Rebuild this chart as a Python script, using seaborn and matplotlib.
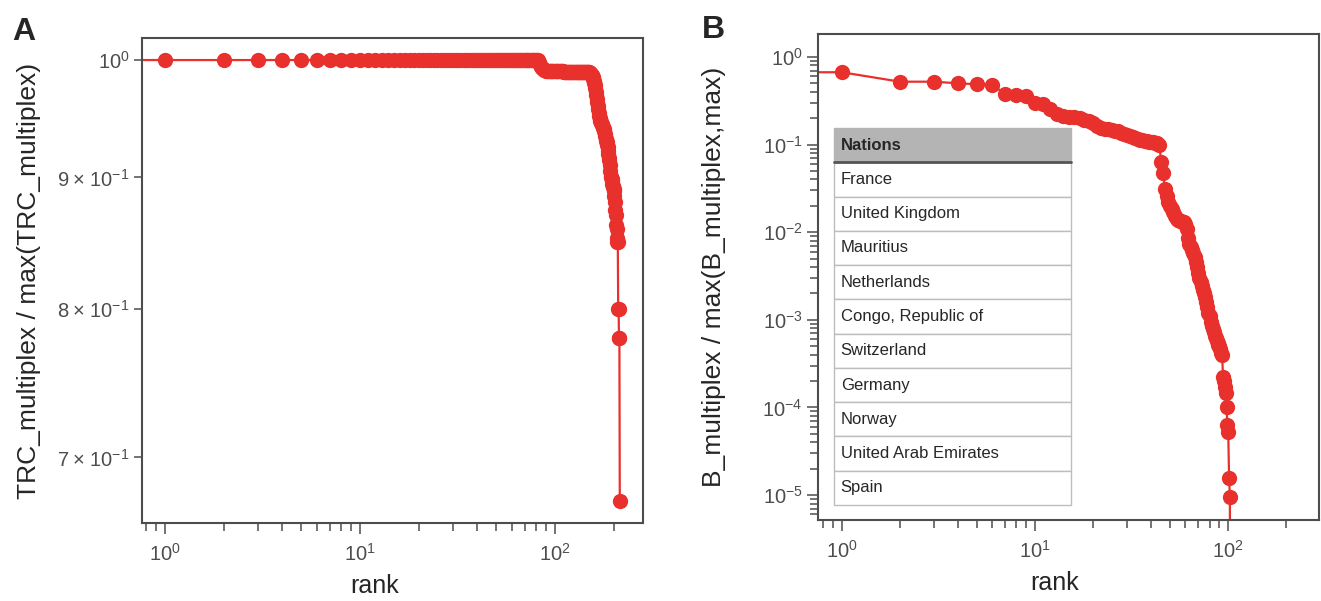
import numpy as np
import pandas as pd
import seaborn as sns
import matplotlib.pyplot as plt
from matplotlib.ticker import LogLocator, NullLocator, NullFormatter

# panel A: TRC_multiplex normalised, one value per rank (rank 0 runs to the left edge)
trc_values = (
    [1.0] * 83
    + [0.998, 0.996, 0.994, 0.993, 0.992, 0.991, 0.991, 0.9905]
    + [0.990] * 20 + [0.9895] * 20 + [0.989] * 20
    + [0.9885, 0.988, 0.9875, 0.987, 0.986,
       0.985, 0.983, 0.981, 0.980, 0.978,
       0.975, 0.972, 0.969, 0.966, 0.963,
       0.960, 0.957, 0.954, 0.951, 0.949,
       0.947, 0.946, 0.945, 0.944, 0.943,
       0.942, 0.941, 0.940, 0.938, 0.936,
       0.934, 0.932, 0.930, 0.929, 0.927,
       0.925, 0.922, 0.919, 0.916, 0.914,
       0.910, 0.905, 0.900, 0.900, 0.899,
       0.897, 0.895, 0.893, 0.892, 0.891,
       0.889, 0.885, 0.880, 0.874, 0.870,
       0.862, 0.859, 0.852, 0.849, 0.849,
       0.800, 0.800, 0.779, 0.779, 0.673]
)

# panel B: B_multiplex normalised (last rank is zero and drops out of the log axis)
b_values = [
    0.68,
    0.669, 0.522, 0.522, 0.50, 0.488, 0.48, 0.38, 0.365, 0.355, 0.30,
    0.29, 0.255, 0.222, 0.212, 0.209, 0.206, 0.200, 0.193, 0.185, 0.177,
    0.165, 0.156, 0.152, 0.149, 0.147, 0.144, 0.141, 0.137, 0.133, 0.130,
    0.126, 0.122, 0.119, 0.116, 0.114, 0.112, 0.110, 0.109, 0.108, 0.107,
    0.106, 0.105, 0.103, 0.099, 0.063, 0.047, 0.031, 0.026, 0.022, 0.020,
    0.0185, 0.017, 0.0155, 0.0143, 0.0138, 0.0135, 0.0133, 0.0131, 0.0129, 0.0125,
    0.011, 0.0085, 0.0074, 0.0068, 0.0063, 0.0058, 0.0052, 0.0046, 0.0040, 0.0034,
    0.0030, 0.0027, 0.0024, 0.0022, 0.0020, 0.0018, 0.0016, 0.0014, 0.0012, 0.0011,
    0.00095, 0.00085, 0.00078, 0.00072, 0.00066, 0.00062, 0.00058, 0.00055, 0.00052, 0.00050,
    0.00046, 0.00042, 0.00040, 0.00022, 0.00020, 0.00017, 0.000145, 0.00010, 0.000063, 0.000053,
    0.0000158, 0.0000095, 0.0,
]

nations = ['France', 'United Kingdom', 'Mauritius', 'Netherlands', 'Congo, Republic of',
           'Switzerland', 'Germany', 'Norway', 'United Arab Emirates', 'Spain']

x_ticks = [1, 10, 100]
x_labels = [r'$\mathregular{10^{0}}$', r'$\mathregular{10^{1}}$', r'$\mathregular{10^{2}}$']
a_y_ticks = [0.7, 0.8, 0.9, 1.0]
a_y_labels = [r'$\mathregular{7\;×\;10^{-1}}$', r'$\mathregular{8\;×\;10^{-1}}$',
              r'$\mathregular{9\;×\;10^{-1}}$', r'$\mathregular{10^{0}}$']
b_y_ticks = [1e-5, 1e-4, 1e-3, 1e-2, 1e-1, 1]
b_y_labels = [r'$\mathregular{10^{-5}}$', r'$\mathregular{10^{-4}}$', r'$\mathregular{10^{-3}}$',
              r'$\mathregular{10^{-2}}$', r'$\mathregular{10^{-1}}$', r'$\mathregular{10^{0}}$']

df_a = pd.DataFrame({'rank': np.arange(len(trc_values)), 'value': trc_values})
df_b = pd.DataFrame({'rank': np.arange(len(b_values)), 'value': b_values})

sns.set_style('ticks')
plt.rcParams['font.family'] = ['Liberation Sans', 'DejaVu Sans']
plt.rcParams['mathtext.fontset'] = 'custom'
plt.rcParams['mathtext.rm'] = 'Liberation Sans'
plt.rcParams['mathtext.it'] = 'Liberation Sans:italic'
plt.rcParams['mathtext.bf'] = 'Liberation Sans:bold'

RED = '#E8302C'
GREY = '#4D4D4D'

fig = plt.figure(figsize=(13.21, 6.01), dpi=100)
axA = fig.add_axes([0.1075, 0.1298, 0.3793, 0.807])
axB = fig.add_axes([0.6192, 0.1348, 0.3793, 0.8087])

for ax, df in [(axA, df_a), (axB, df_b)]:
    sns.lineplot(data=df, x='rank', y='value', marker='o', markersize=11,
                 markeredgewidth=0, color=RED, linewidth=1.6, estimator=None,
                 ax=ax)
    ax.set_xscale('log')
    ax.set_yscale('log')
    ax.set_xticks(x_ticks, labels=x_labels)
    ax.xaxis.set_minor_locator(LogLocator(base=10, subs=np.arange(2, 10), numticks=20))
    ax.xaxis.set_minor_formatter(NullFormatter())
    for s in ax.spines.values():
        s.set_visible(True)
        s.set_color(GREY)
        s.set_linewidth(1.5)
    ax.tick_params(which='both', bottom=True, left=True, top=False, right=False)
    ax.tick_params(which='major', direction='out', length=8, width=1.1, color=GREY,
                   labelcolor=GREY, labelsize=14.5, pad=3)
    ax.tick_params(axis='x', which='major', pad=6)
    ax.tick_params(which='minor', direction='out', length=5.5, width=1.1, color=GREY)
    ax.set_xlabel('rank', fontsize=18)

axA.set_xlim(0.764, 283)
axA.set_ylim(0.66, 1.02)
axA.set_yticks(a_y_ticks, labels=a_y_labels)
axA.yaxis.set_minor_locator(NullLocator())
axA.tick_params(axis='y', which='major', length=6)
axA.set_ylabel('TRC_multiplex / max(TRC_multiplex)', fontsize=19, labelpad=12)
axA.xaxis.set_label_coords(0.465, -0.105)

axB.set_xlim(0.753, 295)
axB.set_ylim(5.19e-6, 1.83)
axB.set_yticks(b_y_ticks, labels=b_y_labels)
axB.yaxis.set_minor_locator(LogLocator(base=10, subs=np.arange(2, 10), numticks=20))
axB.yaxis.set_minor_formatter(NullFormatter())
axB.set_ylabel('B_multiplex / max(B_multiplex,max)', fontsize=19, labelpad=26)
axB.xaxis.set_label_coords(0.473, -0.105)

# nations table
tx, ty, tw, th = 0.0313, 0.0309, 0.4737, 0.7757
tbl = axB.table(cellText=[[n] for n in nations], colLabels=['Nations'],
                cellLoc='left', colLoc='left', bbox=[tx, ty, tw, th], zorder=5)
tbl.auto_set_font_size(False)
tbl.set_fontsize(12)
for (r, c), cell in tbl.get_celld().items():
    cell.PAD = 0.03
    if r == 0:
        cell.set_facecolor('#B4B4B4')
        cell.set_edgecolor('#B4B4B4')
        cell.get_text().set_fontweight('bold')
    else:
        cell.set_facecolor('white')
        cell.set_edgecolor('#BDBDBD')
        cell.set_linewidth(1)
hy = ty + th * len(nations) / (len(nations) + 1)
axB.plot([tx, tx + tw], [hy, hy], transform=axB.transAxes, color='#555555',
         linewidth=2, zorder=6, clip_on=False)

fig.text(0.0096, 0.972, 'A', fontsize=23, fontweight='bold', va='top', ha='left')
fig.text(0.531, 0.975, 'B', fontsize=23, fontweight='bold', va='top', ha='left')

fig.savefig('out.png', dpi=100)
